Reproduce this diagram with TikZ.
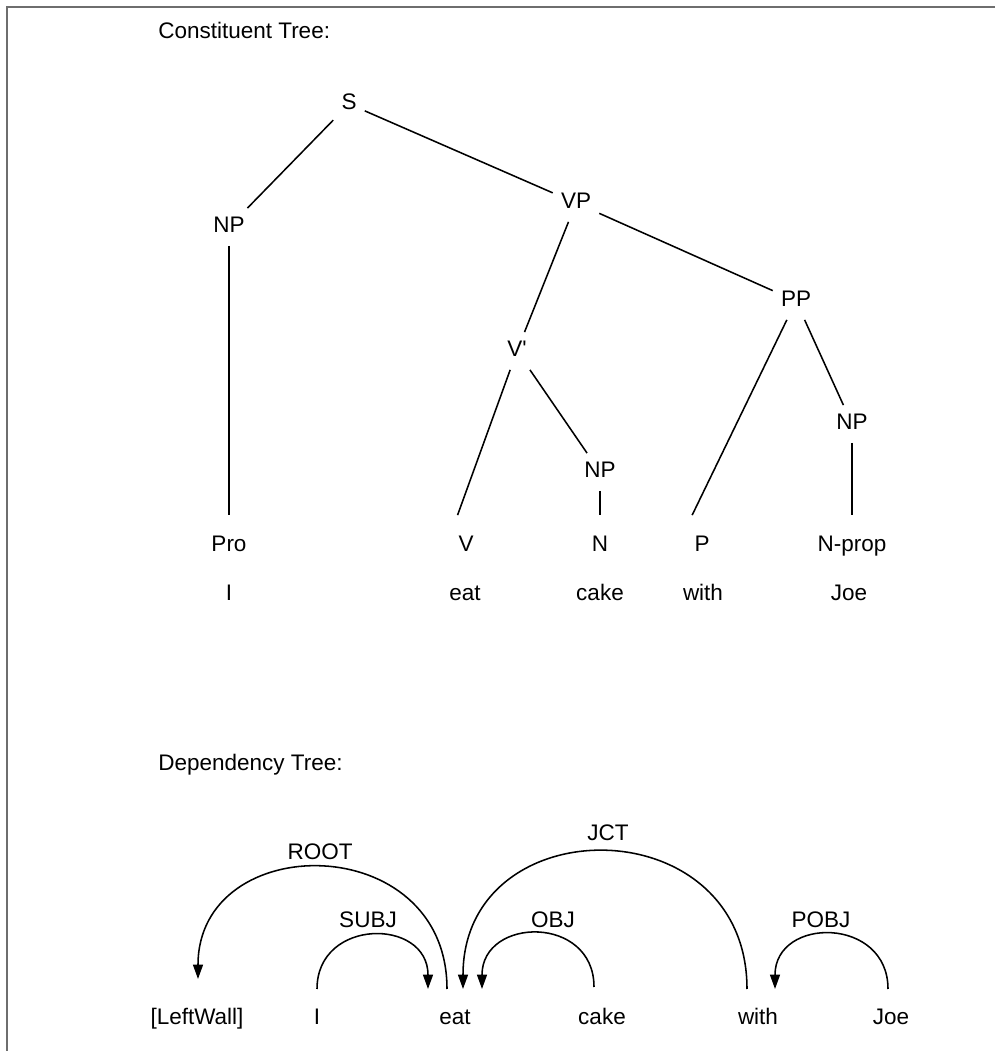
\documentclass[tikz,border=0pt]{standalone}
\usepackage{fontspec}
\setmainfont{Liberation Sans}
\usetikzlibrary{arrows.meta, positioning, calc}
\definecolor{framegray}{RGB}{110, 110, 110}

\begin{document}
\begin{tikzpicture}[
    x=0.025cm, y=0.025cm,
    font=\fontsize{16}{19}\selectfont,
    title/.style={anchor=west, inner sep=0pt},
    cat/.style={inner sep=0.2cm, text height=0.41cm, text depth=0.12cm},
    tag/.style={cat, inner ysep=0.5cm},
    word/.style={inner sep=0.1cm, text height=0.41cm, text depth=0.12cm},
    branch/.style={line width=1.1pt},
    dep/.style={-{Triangle[length=0.36cm, width=0.25cm]}, line width=1.1pt,
                out=90, in=90, looseness=1.65},
    lbl/.style={inner sep=0.05cm}
  ]
  \useasboundingbox (0,0) rectangle (995,1051);

  % Frame
  \draw[framegray, line width=0.9pt] (995,1044) -- (7,1044) -- (7,0);

  % Constituent tree
  \node[title] (ctitle) at (158,1021) {Constituent Tree:};
  \node[cat] (s)    at (349,947) {S};
  \node[cat] (np1)  at (229,824) {NP};
  \node[cat] (vp)   at (576,848) {VP};
  \node[cat] (pp)   at (796,750) {PP};
  \node[cat] (vbar) at (517,700) {V\textquotesingle};
  \node[cat] (np2)  at (600,579) {NP};
  \node[cat] (np3)  at (852,627) {NP};

  \node[tag] (pro)   at (229,505) {Pro};
  \node[tag] (v)     at (466,505) {V};
  \node[tag] (n)     at (600,505) {N};
  \node[tag] (p)     at (702,505) {P};
  \node[tag] (nprop) at (852,505) {N-prop};

  \node[word] (ci)     at (229,456) {I};
  \node[word] (ceat)   at (465,456) {eat};
  \node[word] (ccake)  at (600,456) {cake};
  \node[word] (cwith)  at (703,456) {with};
  \node[word] (cjoe)   at (849,456) {Joe};

  \draw[branch] (s) -- (np1);
  \draw[branch] (s) -- (vp);
  \draw[branch] (np1) -- (pro);
  \draw[branch] (vp) -- (vbar);
  \draw[branch] (vp) -- (pp);
  \draw[branch] (vbar) -- ([xshift=-6]v.north);
  \draw[branch] (vbar) -- (np2);
  \draw[branch] (np2) -- (n);
  \draw[branch] (pp) -- ([xshift=-7]p.north);
  \draw[branch] (pp) -- (np3);
  \draw[branch] (np3) -- (nprop);

  % Dependency tree
  \node[title] (dtitle) at (158,286) {Dependency Tree:};
  \node[word] (dwall) at (197,32) {[LeftWall]};
  \node[word] (di)    at (317,32) {I};
  \node[word] (deat)  at (455,32) {eat};
  \node[word] (dcake) at (602,32) {cake};
  \node[word] (dwith) at (758,32) {with};
  \node[word] (djoe)  at (891,32) {Joe};

  \coordinate (root-a) at ($(deat)+(-8,30)$);
  \coordinate (root-b) at ($(dwall)+(1,30)$);
  \coordinate (subj-a) at ($(di)+(0,30)$);
  \coordinate (subj-b) at ($(deat)+(-27,30)$);
  \coordinate (jct-a)  at ($(dwith)+(-11,30)$);
  \coordinate (jct-b)  at ($(deat)+(8,30)$);
  \coordinate (obj-a)  at ($(dcake)+(-8,32)$);
  \coordinate (obj-b)  at ($(deat)+(27,30)$);
  \coordinate (pobj-a) at ($(djoe)+(-3,30)$);
  \coordinate (pobj-b) at ($(dwith)+(17,30)$);

  \draw[dep, shorten >=0.25cm] (root-a) to (root-b);
  \draw[dep] (subj-a) to (subj-b);
  \draw[dep] (jct-a) to (jct-b);
  \draw[dep] (obj-a) to (obj-b);
  \draw[dep] (pobj-a) to (pobj-b);

  \node[lbl] (lroot) at (320,199) {ROOT};
  \node[lbl] (lsubj) at (368,131) {SUBJ};
  \node[lbl] (ljct)  at (608,218) {JCT};
  \node[lbl] (lobj)  at (553,131) {OBJ};
  \node[lbl] (lpobj) at (821,131) {POBJ};

\end{tikzpicture}
\end{document}
